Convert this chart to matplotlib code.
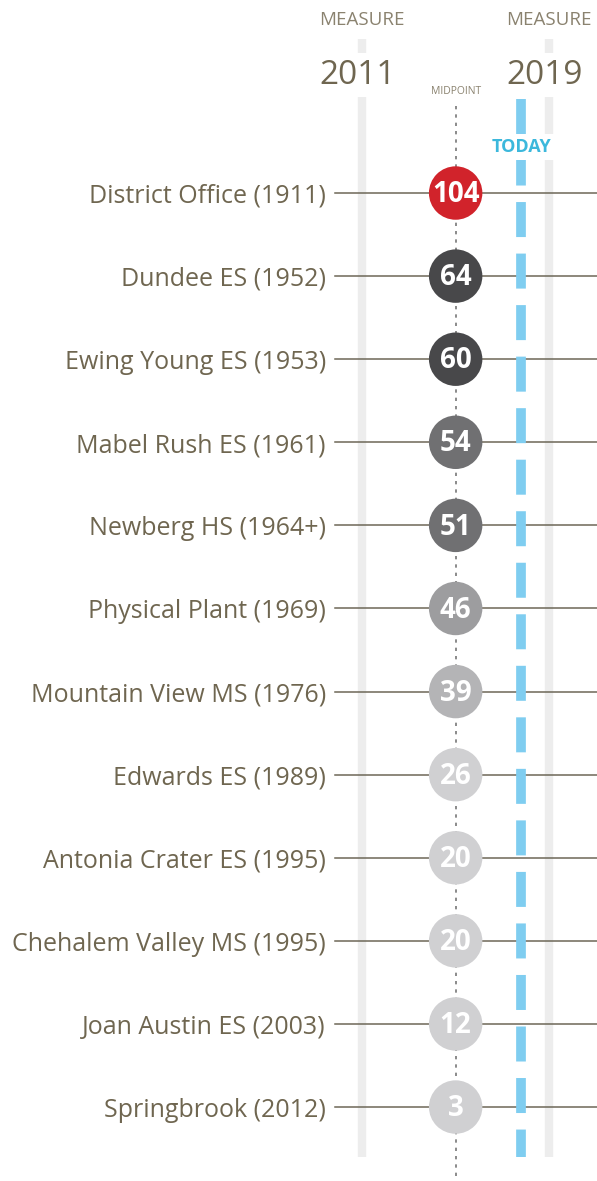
import matplotlib.pyplot as plt

# data
facilities = ['District Office (1911)', 'Dundee ES (1952)', 'Ewing Young ES (1953)',
              'Mabel Rush ES (1961)', 'Newberg HS (1964+)', 'Physical Plant (1969)',
              'Mountain View MS (1976)', 'Edwards ES (1989)', 'Antonia Crater ES (1995)',
              'Chehalem Valley MS (1995)', 'Joan Austin ES (2003)', 'Springbrook (2012)']
scores = [104, 64, 60, 54, 51, 46, 39, 26, 20, 20, 12, 3]
measure_years = [2011, 2019]
midpoint_year = 2015
today_year = 2017.8

LABEL_C = '#6f6650'
LINE_C = '#6d6757'
BAND_C = '#ededed'
BLUE = '#7fcdf0'


def circle_color(v):
    if v >= 100:
        return '#d1232b'
    if v >= 60:
        return '#48484a'
    if v >= 50:
        return '#707072'
    if v >= 45:
        return '#9d9d9f'
    if v >= 35:
        return '#b4b4b6'
    return '#d0d0d2'


fig = plt.figure(figsize=(5.97, 11.81), dpi=100)
ax = fig.add_axes([0, 0, 1, 1])
ax.set_xlim(1995.53, 2021.04)
ax.set_ylim(11.89, -2.323)
ax.axis('off')

rows = list(range(len(facilities)))
n = len(facilities)

# measure bands
for yr in measure_years:
    ax.plot([yr, yr], [-1.85, n - 0.4], color=BAND_C, lw=6, solid_capstyle='butt', zorder=1)
    ax.text(yr, -2.08, 'MEASURE', ha='center', va='center', fontsize=13.5,
            color='#8a826f', family='Open Sans', zorder=5,
            bbox=dict(facecolor='white', edgecolor='none', pad=1))
    ax.text(yr - 0.2, -1.42, str(yr), ha='center', va='center', fontsize=24,
            color=LABEL_C, family='Open Sans', zorder=5,
            bbox=dict(facecolor='white', edgecolor='none', pad=4))

# midpoint dotted line
ax.plot([midpoint_year, midpoint_year], [-1.05, 12], color='#777777', lw=1.2,
        ls=(0, (2, 3)), zorder=2)
ax.text(midpoint_year, -1.22, 'MIDPOINT', ha='center', va='center', fontsize=7.5,
        color='#8a826f', family='Open Sans')

# today dashed line
ax.plot([today_year, today_year], [-1.13, n - 0.4], color=BLUE, lw=7,
        ls=(0, (3.6, 1.7)), solid_capstyle='butt', dash_capstyle='butt', zorder=3)
ax.text(today_year, -0.55, 'TODAY', ha='center', va='center', fontsize=13,
        color='#3cb8dc', family='Open Sans', weight='bold', zorder=5,
        bbox=dict(facecolor='white', edgecolor='none', pad=3))

# rows
for i, (name, v) in enumerate(zip(facilities, scores)):
    ax.plot([2009.85, 2021.04], [i, i], color=LINE_C, lw=1.1, zorder=2.5)
    ax.text(2009.45, i + 0.04, name, ha='right', va='center', fontsize=18,
            color=LABEL_C, family='Open Sans')

ax.scatter([midpoint_year] * n, rows, s=1480,
           c=[circle_color(v) for v in scores], edgecolors='none', zorder=4)
for i, v in enumerate(scores):
    ax.text(midpoint_year, i + 0.02, str(v), ha='center', va='center', fontsize=20,
            color='white', weight='bold', family='Open Sans', zorder=6)

fig.savefig('out.png', dpi=100)
